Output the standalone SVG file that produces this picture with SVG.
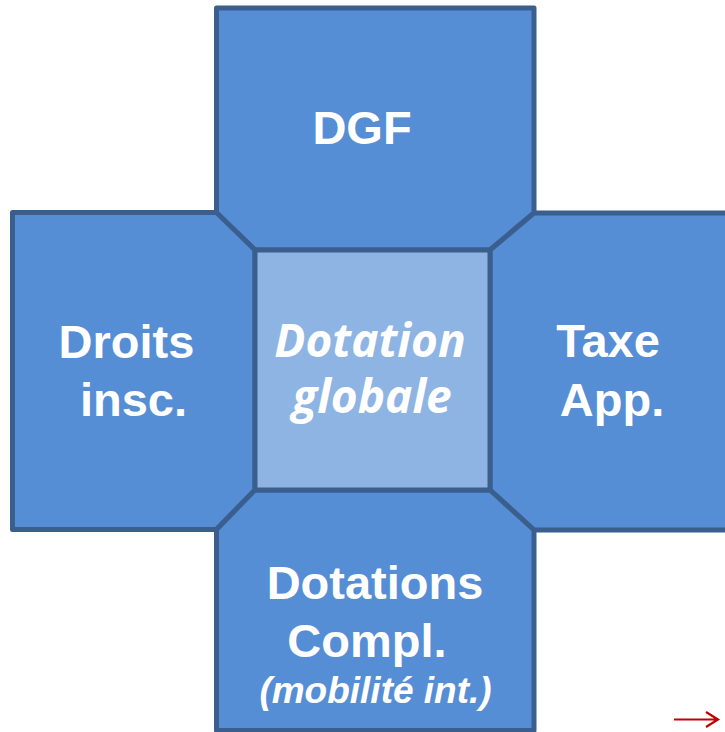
<svg xmlns="http://www.w3.org/2000/svg" width="725" height="732" viewBox="0 0 725 732">
<style>
.box{fill:#558ED5;stroke:#3A5F8F;stroke-width:5;stroke-linejoin:round}
.ctr{fill:#8EB4E3;stroke:#3A5F8F;stroke-width:5;stroke-linejoin:round}
.lbl{font-family:"Liberation Sans",Arial,sans-serif;font-weight:bold;font-size:47px;fill:#FFFFFF;text-anchor:middle}
.it{font-family:"Open Sans","Liberation Sans",sans-serif;font-weight:bold;font-style:italic;font-size:46px;fill:#FFFFFF;text-anchor:middle}
.sub{font-family:"Liberation Sans",Arial,sans-serif;font-weight:bold;font-style:italic;font-size:37px;fill:#FFFFFF;text-anchor:middle}
</style>
<rect width="725" height="732" fill="#FFFFFF"/>
<g id="top">
<path class="box" d="M216.5,8 H534 V213 L490,250 H255 L216.5,213 Z"/>
<text class="lbl" x="362" y="144">DGF</text>
</g>
<g id="left">
<path class="box" d="M12.5,212.5 H216.5 L255,250 V490 L216.5,529.5 H12.5 Z"/>
<text class="lbl" x="126.5" y="358">Droits</text>
<text class="lbl" x="133.5" y="416">insc.</text>
</g>
<g id="right">
<path class="box" d="M534,213 H740 V530 H534 L490,490 V250 Z"/>
<text class="lbl" x="608" y="357">Taxe</text>
<text class="lbl" x="612" y="416">App.</text>
</g>
<g id="bottom">
<path class="box" d="M255,490 H490 L534,530 V730.5 H216.5 V529.5 Z"/>
<text class="lbl" x="375" y="599">Dotations</text>
<text class="lbl" x="367" y="657">Compl.</text>
<text class="sub" x="375.5" y="703">(mobilité int.)</text>
</g>
<g id="center">
<rect class="ctr" x="255" y="250" width="235" height="240"/>
<text class="it" x="370" y="357">Dotation</text>
<text class="it" x="372" y="413">globale</text>
</g>
<g id="connectors">
<path d="M674,719.5 H717 M706,712 L718,719.5 L706,727" fill="none" stroke="#C00000" stroke-width="2.2"/>
</g>
</svg>
